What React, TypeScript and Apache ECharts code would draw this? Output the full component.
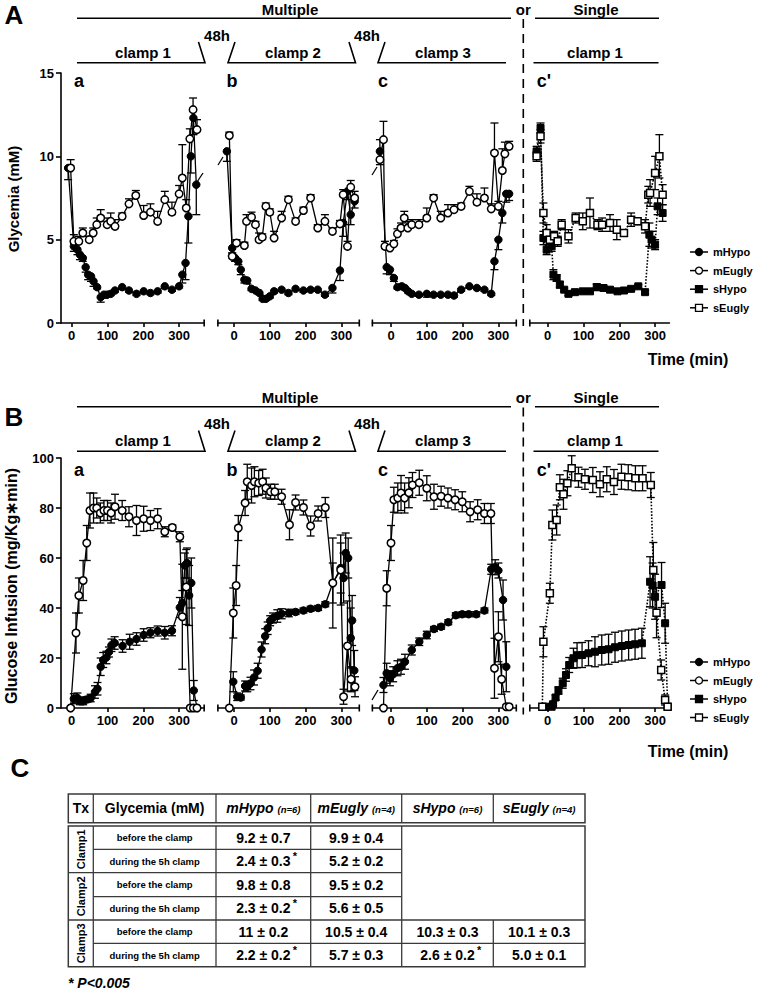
import { useEffect, useRef } from 'react';
import * as echarts from 'echarts';

const FONT = '"Liberation Sans", Arial, Helvetica, sans-serif';

// ---------------- data: [time (min), value, SEM] ----------------
const X_TICKS = [0, 100, 200, 300];
const SERIES_NAMES = ['mHypo', 'mEugly', 'sHypo', 'sEugly'];

// Panel A – Glycemia (mM)
const A_A_MHYPO = [[-10, 9.3, 0.7], [6, 4.6, 0.3], [16, 4.4, 0.3], [23, 4.1, 0.3], [31, 3.9, 0.2], [39, 3.35, 0.3], [46, 2.9, 0.3], [54, 2.8, 0.3], [61, 2.5, 0.3], [71, 2.15, 0.1], [81, 1.55, 0.3], [90, 1.7, 0.2], [99, 1.7, 0.1], [109, 1.75, 0.1], [121, 1.95, 0.1], [141, 2.15, 0.1], [160, 1.95, 0.1], [181, 1.75, 0.1], [201, 1.9, 0.1], [220, 1.8, 0.1], [240, 1.9, 0.1], [260, 2.2, 0.1], [280, 2.0, 0.1], [300, 2.2, 0.1], [309, 2.9, 0.5], [318, 3.6, 1.0], [326, 6.4, 1.6], [333, 10.0, 1.0], [340, 12.3, 1.0], [348, 8.3, 1.8]];
const A_A_MEUGLY = [[-3, 9.3, 0.5], [6, 4.9, 0.4], [20, 4.9, 0.3], [31, 5.4, 0.3], [49, 5.0, 0.2], [60, 5.4, 0.3], [70, 5.9, 0.4], [81, 6.3, 0.5], [99, 5.9, 0.4], [109, 6.1, 0.5], [121, 5.8, 0.4], [141, 6.4, 0.2], [160, 7.15, 0.3], [179, 7.65, 0.3], [201, 6.45, 0.6], [220, 6.65, 0.5], [240, 6.1, 0.6], [260, 7.4, 0.5], [280, 6.65, 0.6], [300, 7.75, 0.5], [309, 8.7, 2.0], [320, 6.9, 0.5], [330, 11.05, 0.6], [339, 12.8, 0.7], [350, 11.6, 0.6]];
const A_B_MHYPO = [[-20, 10.3, 0.6], [-5, 4.5, 0.3], [3, 3.9, 0.2], [12, 3.7, 0.2], [19, 3.2, 0.3], [29, 2.6, 0.2], [37, 2.55, 0.2], [49, 2.05, 0.1], [60, 1.95, 0.1], [71, 1.8, 0.1], [80, 1.45, 0.1], [89, 1.45, 0.1], [100, 1.6, 0.1], [112, 1.9, 0.1], [133, 2.0, 0.1], [152, 1.8, 0.1], [172, 2.05, 0.1], [194, 1.95, 0.1], [214, 2.0, 0.1], [234, 2.0, 0.1], [254, 1.7, 0.1], [275, 2.1, 0.3], [296, 3.15, 0.6], [305, 6.0, 0.8], [317, 7.9, 0.5], [326, 6.5, 0.6], [337, 7.3, 0.4]];
const A_B_MEUGLY = [[-13, 11.25, 0.2], [-5, 4.0, 0.2], [7, 4.8, 0.2], [29, 4.65, 0.2], [35, 6.1, 0.4], [49, 6.35, 0.3], [60, 5.9, 0.2], [70, 5.0, 0.4], [79, 5.15, 0.2], [89, 7.0, 0.2], [100, 6.65, 0.2], [112, 5.1, 0.4], [133, 6.3, 0.4], [152, 7.4, 0.2], [172, 6.1, 0.2], [194, 6.75, 0.2], [214, 7.5, 0.2], [234, 5.7, 0.2], [254, 6.1, 0.4], [275, 5.5, 0.2], [296, 5.95, 0.2], [305, 7.7, 0.3], [317, 4.6, 0.3], [326, 8.15, 0.4], [337, 7.5, 0.4]];
const A_C_MHYPO = [[-31, 10.3, 0.8], [-12, 3.35, 0.4], [-3, 3.2, 0.3], [8, 2.7, 0.2], [18, 2.15, 0.1], [30, 2.2, 0.1], [39, 2.1, 0.1], [48, 1.9, 0.1], [58, 1.75, 0.1], [78, 1.7, 0.1], [100, 1.75, 0.2], [119, 1.7, 0.1], [139, 1.7, 0.1], [159, 1.7, 0.1], [176, 1.65, 0.1], [196, 2.0, 0.1], [219, 2.2, 0.1], [240, 2.1, 0.1], [261, 2.0, 0.1], [280, 1.75, 0.1], [289, 3.7, 0.5], [300, 5.0, 0.6], [311, 6.6, 0.6], [322, 7.75, 0.5], [330, 7.75, 0.4]];
const A_C_MEUGLY = [[-31, 9.8, 1.2], [-21, 11.0, 1.1], [-17, 4.6, 0.3], [-3, 4.5, 0.2], [8, 4.75, 0.2], [18, 5.35, 0.3], [28, 5.7, 0.3], [37, 6.3, 0.4], [47, 5.7, 0.4], [58, 5.9, 0.3], [78, 5.9, 0.3], [100, 6.3, 0.6], [119, 7.5, 0.2], [139, 6.3, 0.4], [159, 6.6, 0.5], [176, 6.8, 0.3], [196, 7.0, 0.2], [219, 7.9, 0.3], [240, 7.25, 0.5], [261, 7.5, 0.6], [280, 6.85, 0.3], [289, 10.2, 1.8], [300, 7.0, 0.3], [311, 9.15, 1.3], [318, 10.15, 0.7], [330, 10.6, 0.3]];
const A_CP_SHYPO = [[-31, 10.3, 0.3], [-20, 11.7, 0.3], [-12, 5.1, 0.4], [-3, 4.4, 0.3], [11, 4.6, 0.3], [16, 2.9, 0.3], [25, 2.7, 0.2], [34, 2.3, 0.2], [46, 2.0, 0.1], [58, 1.75, 0.1], [76, 1.85, 0.1], [98, 1.9, 0.1], [118, 1.9, 0.1], [137, 2.15, 0.2], [156, 2.1, 0.1], [174, 2.0, 0.1], [195, 1.9, 0.1], [213, 1.95, 0.1], [233, 2.05, 0.1], [253, 2.2, 0.1], [272, 1.85, 0.1], [284, 5.3, 0.7], [290, 5.0, 0.5], [300, 4.7, 0.3], [307, 7.0, 0.5], [321, 6.6, 0.5]];
const A_CP_SEUGLY = [[-31, 10.0, 0.3], [-20, 11.2, 0.4], [-12, 6.6, 0.6], [-3, 5.4, 0.5], [6, 5.0, 0.3], [18, 5.2, 0.3], [28, 4.9, 0.3], [39, 5.9, 0.3], [58, 5.2, 0.4], [78, 6.3, 0.3], [98, 6.1, 0.5], [118, 6.6, 0.9], [139, 5.9, 0.3], [152, 5.9, 0.4], [174, 6.0, 0.5], [193, 5.6, 0.6], [213, 5.4, 0.2], [233, 6.2, 0.4], [251, 6.1, 0.2], [272, 5.8, 0.4], [281, 7.7, 0.5], [286, 7.8, 0.8], [300, 9.0, 1.0], [312, 10.0, 1.3], [321, 7.7, 0.6]];

// Panel B – Glucose infusion (mg/Kg*min)
const B_A_MHYPO = [[-3, 0, 0], [6, 3.7, 2], [16, 4, 2], [23, 2.8, 1.5], [32, 2.8, 1.5], [39, 3.3, 1], [46, 3.5, 1], [53, 4, 1.5], [65, 6.4, 2.5], [72, 7.7, 2.5], [81, 16.5, 3.5], [88, 19.2, 3], [97, 20.2, 2.5], [104, 22.4, 2], [111, 25.1, 2.5], [120, 26, 2.5], [142, 24.8, 2.5], [162, 26.5, 3], [181, 27.6, 2.5], [201, 29.2, 2.5], [220, 30.1, 2], [240, 30.8, 2], [260, 30.1, 2.5], [280, 30.9, 2], [302, 40.2, 4], [309, 42, 5], [316, 57, 5], [322, 58, 6], [328, 45, 12], [334, 50, 10], [341, 7, 4], [350, 0, 0]];
const B_A_MEUGLY = [[-3, 0, 0], [12, 30, 8], [20, 45, 7], [32, 51, 8], [42, 66, 7], [51, 79, 7], [61, 80, 6], [70, 80, 4], [80, 78, 4], [90, 79, 4], [100, 79, 4], [110, 78, 4], [121, 80.5, 5], [141, 79, 4], [160, 76.5, 4], [181, 75, 6], [201, 75.7, 5], [220, 75, 4], [240, 75.7, 4], [260, 70.5, 2], [281, 72.2, 1], [302, 68.5, 2], [309, 36.5, 21], [320, 48.4, 15], [331, 0, 0], [340, 0, 0], [350, 0, 0]];
const B_B_MHYPO = [[-2, 10.5, 4], [9, 4.5, 1.5], [19, 4.2, 1], [31, 8.8, 2], [37, 8.5, 2], [46, 9.8, 2.5], [56, 12.2, 3], [66, 14.9, 3], [77, 23.4, 3], [87, 28.7, 3], [94, 31.9, 2.5], [101, 34.9, 2], [109, 36, 2], [121, 36.8, 2.5], [133, 37.7, 2], [153, 38, 1.5], [172, 38.4, 1], [194, 39, 1], [214, 39.7, 1], [235, 40, 1], [255, 41.5, 1], [276, 50, 8], [298, 56, 10], [306, 52, 10], [312, 62, 8], [319, 60, 8], [326, 28, 12], [330, 35, 10], [336, 15, 8]];
const B_B_MEUGLY = [[-13, 0, 0], [-2, 38, 10], [6, 49, 8], [12, 72, 5], [31, 82, 5], [37, 90.5, 7], [49, 89, 7], [57, 90.5, 6], [69, 90, 5], [80, 90.5, 5], [89, 88, 4], [102, 86.5, 3], [114, 86.5, 3], [133, 84.5, 3], [155, 73.3, 6], [172, 82.2, 3], [194, 80.2, 3], [214, 72.8, 4], [235, 77.8, 3], [255, 80.2, 4], [276, 50, 18], [298, 55.2, 14], [306, 4.5, 3], [317, 24.8, 18], [327, 11.5, 5], [338, 8.5, 4]];
const B_C_MHYPO = [[-21, 9.2, 3], [-12, 13.9, 4], [-3, 11.9, 3], [6, 13.5, 3], [18, 15.9, 3], [28, 16.5, 3], [39, 18.5, 3], [58, 23.2, 2], [79, 26.5, 1.5], [100, 29.2, 1.5], [120, 31.6, 1], [140, 32.5, 1], [160, 34.3, 1], [181, 37.1, 1], [199, 37.5, 1], [217, 37.5, 1], [238, 37.5, 1], [261, 39, 1], [280, 55.5, 2], [291, 56.3, 3], [300, 55, 3], [313, 43.2, 8], [322, 16.5, 10]];
const B_C_MEUGLY = [[-21, 0, 0], [-12, 47.9, 7], [0, 66, 7], [8, 83.3, 5], [19, 84, 6], [28, 86, 7], [38, 84, 6], [50, 86.1, 6], [60, 89.2, 5], [79, 90.1, 5], [100, 87.9, 5], [120, 84.5, 5], [140, 84.7, 4], [159, 84, 4], [179, 83.3, 4], [199, 82.5, 4], [221, 78.5, 4], [242, 79.3, 4], [261, 77.8, 4], [279, 77.8, 4], [289, 15.9, 12], [300, 28.5, 10], [309, 11.5, 6], [322, 0.5, 0], [330, 0.5, 0]];
const B_CP_SHYPO = [[-6, 0.5, 0], [11, 0.5, 0], [15, 1.5, 0.5], [22, 4.2, 1], [30, 7, 1.5], [42, 9.9, 2], [51, 13.2, 2.5], [60, 17.2, 3], [72, 19.9, 4], [82, 21.1, 5], [96, 21.2, 5], [114, 21.9, 5], [132, 22.5, 6], [151, 23.2, 6], [170, 23.5, 6], [188, 24.3, 6], [207, 24.8, 6], [226, 25.2, 6], [244, 25.5, 6], [263, 25.9, 6], [286, 50.5, 10], [293, 49, 9], [300, 44.5, 9], [318, 49.2, 9], [328, 33.9, 8], [335, 0.5, 0]];
const B_CP_SEUGLY = [[-15, 0.5, 0], [-12, 26.5, 6], [6, 45.9, 4], [13, 73.2, 6], [25, 75.2, 6], [34, 88.3, 5], [44, 85.5, 6], [55, 89.9, 5], [67, 95.9, 5], [86, 92.3, 4], [104, 91.5, 4], [126, 91.2, 5], [146, 89.5, 5], [165, 91.5, 5], [185, 90.4, 5], [206, 92.5, 5], [225, 92.3, 5], [245, 91.9, 5], [265, 91.9, 5], [288, 89.2, 5], [295, 55.2, 11], [304, 38.1, 10], [317, 15.2, 4], [328, 3.2, 2], [335, 0.5, 0]];

// Table C
const TABLE_HEAD = ['Tx', 'Glycemia (mM)'];
const GROUP_HEAD = [['mHypo', '(n=6)'], ['mEugly', '(n=4)'], ['sHypo', '(n=6)'], ['sEugly', '(n=4)']];
const CLAMP_LABELS = ['Clamp1', 'Clamp2', 'Clamp3'];
const ROW_LABELS = ['before the clamp', 'during the 5h clamp', 'before the clamp', 'during the 5h clamp', 'before the clamp', 'during the 5h clamp'];
const M_HYPO_VALS = ['9.2 ± 0.7', '2.4 ± 0.3', '9.8 ± 0.8', '2.3 ± 0.2', '11 ± 0.2', '2.2 ± 0.2'];
const M_HYPO_SIG = [false, true, false, true, false, true];
const M_EUGLY_VALS = ['9.9 ± 0.4', '5.2 ± 0.2', '9.5 ± 0.2', '5.6 ± 0.5', '10.5 ± 0.4', '5.7 ± 0.3'];
const S_HYPO_VALS = ['10.3 ± 0.3', '2.6 ± 0.2'];
const S_HYPO_SIG = [false, true];
const S_EUGLY_VALS = ['10.1 ± 0.3', '5.0 ± 0.1'];
const FOOTNOTE = '* P<0.005';

// ---------------- layout ----------------
const PX = 0.358;
const ZERO_X = [71.7, 234, 391, 547.7];
const X_MIN = [-30, -45, -52, -50];
const X_MAX = [370, 350, 350, 340];
const PANEL_TOP = [73, 458];
const PANEL_H = 250;
const Y_MAX = [15, 100];
const Y_INT = [5, 20];
const SUBPLOTS = [
  [[A_A_MHYPO, A_A_MEUGLY], [A_B_MHYPO, A_B_MEUGLY], [A_C_MHYPO, A_C_MEUGLY], [A_CP_SHYPO, A_CP_SEUGLY]],
  [[B_A_MHYPO, B_A_MEUGLY], [B_B_MHYPO, B_B_MEUGLY], [B_C_MHYPO, B_C_MEUGLY], [B_CP_SHYPO, B_CP_SEUGLY]],
];

const txt = (x: number, y: number, text: string, size: number, o: any = {}) => ({
  type: 'text', x, y, rotation: o.rotation || 0, silent: true,
  style: {
    text, fontSize: size, fontWeight: o.weight || 'bold', fontStyle: o.italic ? 'italic' : 'normal',
    fontFamily: FONT, fill: '#000', align: o.align || 'center', verticalAlign: 'middle', rich: o.rich,
  },
});
const ln = (x1: number, y1: number, x2: number, y2: number, w = 1.6, dash?: number[], color = '#000') => ({
  type: 'line', silent: true, shape: { x1, y1, x2, y2 },
  style: { stroke: color, lineWidth: w, lineDash: dash },
});
const pl = (pts: number[][], w = 1.6) => ({
  type: 'polyline', silent: true, shape: { points: pts }, style: { stroke: '#000', lineWidth: w, fill: 'none' },
});

function errSeries(gi: number, data: number[][], dir: number) {
  return {
    type: 'custom', xAxisIndex: gi, yAxisIndex: gi, data, dimensions: ['t', 'v', 'e'],
    encode: { x: 0, y: 1 }, z: 2, silent: true, clip: false,
    renderItem: (_p: any, api: any) => {
      const t = api.value(0), v = api.value(1), e = api.value(2);
      const c = api.coord([t, v]);
      if (!e) return { type: 'group', children: [] };
      const up = dir >= 0 ? api.coord([t, v + e])[1] : c[1];
      const lowV = Math.max(0, v - e);
      const dn = dir <= 0 ? api.coord([t, lowV])[1] : c[1];
      const kids: any[] = [{ type: 'line', shape: { x1: c[0], y1: up, x2: c[0], y2: dn }, style: { stroke: '#000', lineWidth: 1.3 } }];
      if (dir >= 0) kids.push({ type: 'line', shape: { x1: c[0] - 4, y1: up, x2: c[0] + 4, y2: up }, style: { stroke: '#000', lineWidth: 1.3 } });
      if (dir <= 0 && lowV > 0) kids.push({ type: 'line', shape: { x1: c[0] - 4, y1: dn, x2: c[0] + 4, y2: dn }, style: { stroke: '#000', lineWidth: 1.3 } });
      return { type: 'group', children: kids };
    },
  };
}

function lineSeries(gi: number, data: number[][], name: string, filled: boolean, single: boolean) {
  return {
    type: 'line', name, xAxisIndex: gi, yAxisIndex: gi, data, encode: { x: 0, y: 1 }, z: 3, clip: false,
    symbol: single ? 'rect' : 'circle', symbolSize: single ? 7 : 7.5, showSymbol: true, silent: true,
    itemStyle: { color: filled ? '#000' : '#fff', borderColor: '#000', borderWidth: filled ? 1 : 1.5 },
    lineStyle: { color: '#000', width: single ? 1.6 : 1.3, type: single ? 'dotted' : 'solid' },
    emphasis: { disabled: true },
  };
}

function panelAnnotations(dy: number, letterY: number) {
  const els: any[] = [];
  els.push(txt(290, 9.3 + dy, 'Multiple', 15));
  els.push(ln(77, 18.3 + dy, 511, 18.3 + dy));
  els.push(txt(523.3, 9.3 + dy, 'or', 15));
  els.push(txt(596, 9.3 + dy, 'Single', 15));
  els.push(ln(535, 18.3 + dy, 659, 18.3 + dy));
  els.push(pl([[77, 62.7 + dy], [205, 62.7 + dy], [198.5, 42 + dy]]));
  els.push(txt(217, 35 + dy, '48h', 15));
  els.push(pl([[235, 42 + dy], [228, 62.7 + dy], [355.5, 62.7 + dy], [349, 42 + dy]]));
  els.push(txt(367, 35 + dy, '48h', 15));
  els.push(pl([[385, 42 + dy], [378, 62.7 + dy], [506, 62.7 + dy]]));
  els.push(ln(533.5, 62.7 + dy, 658.5, 62.7 + dy));
  els.push(txt(143, 52 + dy, 'clamp 1', 15));
  els.push(txt(293, 52 + dy, 'clamp 2', 15));
  els.push(txt(443, 52 + dy, 'clamp 3', 15));
  els.push(txt(595, 52 + dy, 'clamp 1', 15));
  els.push(ln(523.3, 19 + dy, 523.3, 326 + dy, 1.6, [9, 6]));
  els.push(txt(79, letterY, 'a', 18));
  els.push(txt(232, letterY, 'b', 18));
  els.push(txt(383, letterY, 'c', 18));
  els.push(txt(544, letterY, "c'", 18));
  // axis end caps
  const axisY = PANEL_TOP[dy > 0 ? 1 : 0] + PANEL_H;
  for (let s = 0; s < 4; s++) {
    const left = ZERO_X[s] + X_MIN[s] * PX;
    const right = left + (X_MAX[s] - X_MIN[s]) * PX;
    if (s > 0) els.push(ln(left, axisY - 3.5, left, axisY + 3.5, 1.6));
    if (s < 3) els.push(ln(right, axisY - 3.5, right, axisY + 3.5, 1.6));
  }
  return els;
}

function legend(y0: number, gap: number) {
  const els: any[] = [];
  SERIES_NAMES.forEach((n, i) => {
    const y = y0 + i * gap;
    const filled = i % 2 === 0;
    els.push(ln(690, y, 708, y, 1.5));
    if (i < 2) {
      els.push({ type: 'circle', silent: true, shape: { cx: 699, cy: y, r: 3.5 }, style: { fill: filled ? '#000' : '#fff', stroke: '#000', lineWidth: 1.3 } });
    } else {
      els.push({ type: 'rect', silent: true, shape: { x: 695.5, y: y - 3.5, width: 7, height: 7 }, style: { fill: filled ? '#000' : '#fff', stroke: '#000', lineWidth: 1.3 } });
    }
    els.push(txt(713, y, n, 11, { align: 'left' }));
  });
  return els;
}

function table() {
  const els: any[] = [];
  const C = [68.3, 93.3, 216, 310.7, 401.7, 493.3, 585];
  const R = [826, 849.3, 872.7, 896.7, 920, 943.3, 966.7];
  const hTop = 794, hBot = 822.7;
  const col = '#3a3a3a';
  const cx = (i: number) => (C[i] + C[i + 1]) / 2;
  const ry = (i: number) => (R[i] + R[i + 1]) / 2;
  // header box
  els.push({ type: 'rect', silent: true, shape: { x: C[0], y: hTop, width: C[6] - C[0], height: hBot - hTop }, style: { fill: 'none', stroke: col, lineWidth: 1.5 } });
  for (let i = 1; i < 6; i++) els.push(ln(C[i], hTop, C[i], hBot, 1.3, undefined, col));
  // body box
  els.push({ type: 'rect', silent: true, shape: { x: C[0], y: R[0], width: C[6] - C[0], height: R[6] - R[0] }, style: { fill: 'none', stroke: col, lineWidth: 1.5 } });
  for (let i = 1; i < 5; i++) els.push(ln(C[i], R[0], C[i], R[6], 1.3, undefined, col));
  els.push(ln(C[5], R[4], C[5], R[6], 1.3, undefined, col));
  els.push(ln(C[1], R[1], C[4], R[1], 1.3, undefined, col));
  els.push(ln(C[0], R[2], C[4], R[2], 1.3, undefined, col));
  els.push(ln(C[1], R[3], C[4], R[3], 1.3, undefined, col));
  els.push(ln(C[0], R[4], C[6], R[4], 1.3, undefined, col));
  els.push(ln(C[1], R[5], C[6], R[5], 1.3, undefined, col));
  const hy = (hTop + hBot) / 2;
  els.push(txt(cx(0), hy, TABLE_HEAD[0], 14));
  els.push(txt(cx(1), hy, TABLE_HEAD[1], 14));
  GROUP_HEAD.forEach((g, i) => {
    els.push(txt(cx(i + 2), hy, `{b|${g[0]}} {s|${g[1]}}`, 14, {
      rich: {
        b: { fontSize: 14, fontWeight: 'bold', fontStyle: 'italic', fontFamily: FONT, fill: '#000' },
        s: { fontSize: 9.5, fontWeight: 'bold', fontStyle: 'italic', fontFamily: FONT, fill: '#000', padding: [3, 0, 0, 0] },
      },
    }));
  });
  CLAMP_LABELS.forEach((l, i) => {
    els.push(txt(cx(0), (R[2 * i] + R[2 * i + 2]) / 2, l, 11, { rotation: Math.PI / 2 }));
  });
  ROW_LABELS.forEach((l, i) => els.push(txt(cx(1), ry(i), l, 9.5)));
  const star = (x: number, y: number) => txt(x, y - 5, '*', 11, { align: 'left' });
  M_HYPO_VALS.forEach((v, i) => {
    els.push(txt(cx(2), ry(i), v, 14));
    if (M_HYPO_SIG[i]) els.push(star(cx(2) + 29.5, ry(i)));
  });
  M_EUGLY_VALS.forEach((v, i) => els.push(txt(cx(3), ry(i), v, 14)));
  S_HYPO_VALS.forEach((v, i) => {
    els.push(txt(cx(4), ry(i + 4), v, 14));
    if (S_HYPO_SIG[i]) els.push(star(cx(4) + 29.5, ry(i + 4)));
  });
  S_EUGLY_VALS.forEach((v, i) => els.push(txt(cx(5), ry(i + 4), v, 14)));
  els.push(txt(68, 983, FOOTNOTE, 14, { align: 'left', italic: true }));
  return els;
}

function buildOption() {
  const grid: any[] = [], xAxis: any[] = [], yAxis: any[] = [], series: any[] = [];
  for (let p = 0; p < 2; p++) {
    for (let s = 0; s < 4; s++) {
      const gi = p * 4 + s;
      const left = ZERO_X[s] + X_MIN[s] * PX;
      const width = (X_MAX[s] - X_MIN[s]) * PX;
      grid.push({ left, top: PANEL_TOP[p], width, height: PANEL_H, containLabel: false });
      xAxis.push({
        type: 'value', gridIndex: gi, min: X_MIN[s], max: X_MAX[s],
        axisLine: { show: true, onZero: false, lineStyle: { color: '#000', width: 1.6 } },
        axisTick: { show: true, customValues: X_TICKS, length: 4, lineStyle: { color: '#000', width: 1.6 } },
        axisLabel: { show: true, customValues: X_TICKS, margin: 6, color: '#000', fontSize: 13, fontWeight: 'bold', fontFamily: FONT },
        splitLine: { show: false },
      });
      yAxis.push({
        type: 'value', gridIndex: gi, min: 0, max: Y_MAX[p], interval: Y_INT[p], show: s === 0,
        axisLine: { show: true, onZero: false, lineStyle: { color: '#000', width: 1.6 } },
        axisTick: { show: true, length: 5, lineStyle: { color: '#000', width: 1.6 } },
        axisLabel: { margin: 7, color: '#000', fontSize: 13, fontWeight: 'bold', fontFamily: FONT },
        splitLine: { show: false },
      });
      const single = s === 3;
      const [hypo, eug] = SUBPLOTS[p][s];
      const dirH = p === 0 && !single ? -1 : 0;
      const dirE = p === 0 && !single ? 1 : 0;
      series.push(errSeries(gi, hypo, dirH));
      series.push(errSeries(gi, eug, dirE));
      series.push(lineSeries(gi, hypo, single ? 'sHypo' : 'mHypo', true, single));
      series.push(lineSeries(gi, eug, single ? 'sEugly' : 'mEugly', false, single));
    }
  }
  const graphic: any[] = [
    txt(14, 15, 'A', 26, { align: 'center' }),
    txt(14, 416.5, 'B', 26),
    txt(20, 767.5, 'C', 26),
    txt(13.5, 199, 'Glycemia (mM)', 15, { rotation: Math.PI / 2 }),
    txt(11, 586, 'Glucose Infusion (mg/Kg\u2217min)', 16, { rotation: Math.PI / 2 }),
    txt(688, 359, 'Time (min)', 16),
    txt(688, 751, 'Time (min)', 16),
    // axis-break marks
    ln(218, 165, 223, 157, 1.3), ln(372, 175, 377, 167, 1.3), ln(197, 182, 203, 173, 1.3),
    ln(372, 700, 378, 690, 1.3),
    ...panelAnnotations(0, 81),
    ...panelAnnotations(388.5, 470),
    ...legend(252, 18.6),
    ...legend(662, 18.5),
    ...table(),
  ];
  return { backgroundColor: '#fff', animation: false, grid, xAxis, yAxis, series, graphic };
}

export default function App() {
  const ref = useRef<HTMLDivElement>(null);
  useEffect(() => {
    document.body.style.margin = '0';
    const chart = echarts.init(ref.current!, undefined, { renderer: 'svg' });
    chart.setOption(buildOption() as any);
    return () => chart.dispose();
  }, []);
  return <div ref={ref} style={{ position: 'absolute', left: 0, top: 0, width: 766, height: 991, background: '#fff' }} />;
}
